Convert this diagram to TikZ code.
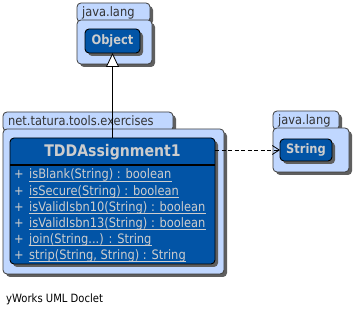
\documentclass[tikz,border=0pt]{standalone}
\usepackage{fontspec}
\setmainfont{DejaVu Sans}[FakeStretch=0.88]
\usetikzlibrary{arrows.meta,shadows}

\definecolor{pkgfill}{RGB}{192,215,255}
\definecolor{pkgline}{RGB}{60,60,60}
\definecolor{clsfill}{RGB}{2,84,166}
\definecolor{clstext}{RGB}{205,205,205}
\definecolor{shade}{RGB}{95,95,95}

\tikzset{
  box/.style={rectangle, inner sep=0pt, outer sep=0pt, anchor=north west,
    rounded corners=4pt,
    general shadow={fill=shade, shadow xshift=3pt, shadow yshift=-3pt}},
  pkgpart/.style={box, draw=pkgline, fill=pkgfill, line width=0.8pt},
  classbox/.style={box, draw=black, fill=clsfill, line width=0.9pt},
  refbox/.style={box, draw=black, fill=clsfill, line width=0.9pt,
    font=\bfseries\fontsize{13}{13}\selectfont, text=clstext},
  pkglabel/.style={anchor=base west, inner sep=0pt,
    font=\fontsize{13}{13}\selectfont, text=black!80},
  member/.style={anchor=base west, inner sep=0pt,
    font=\fontsize{13}{13}\selectfont, text=clstext},
  underl/.style={draw=clstext, line width=0.7pt},
  inherit/.style={draw=black, line width=0.8pt,
    -{Triangle[open, length=14pt, width=13pt, fill=white]}},
  depend/.style={draw=black, line width=0.8pt,
    dash pattern=on 4pt off 2.5pt,
    -{Straight Barb[length=7pt, width=9pt]}},
}

\begin{document}
\begin{tikzpicture}[x=1pt, y=-1pt]
\useasboundingbox (0,0) rectangle (354,315);

% package java.lang (top)
\node[pkgpart, minimum width=73pt, minimum height=19pt] (tabA) at (77,3) {};
\node[pkgpart, minimum width=75pt, minimum height=44pt] (pkgA) at (77,20) {};
\node[pkglabel] (labA) at (82,17) {java.lang};
\node[refbox, minimum width=55pt, minimum height=24pt] (obj) at (85,29) {Object};

% package net.tatura.tools.exercises
\node[pkgpart, minimum width=170pt, minimum height=19pt] (tabB) at (3,112) {};
\node[pkgpart, minimum width=221pt, minimum height=145pt] (pkgB) at (3,129) {};
\node[pkglabel] (labB) at (8,126) {net.tatura.tools.exercises};

% class TDDAssignment1
\node[classbox, minimum width=205pt, minimum height=126pt] (cls) at (10,138) {};
\node[anchor=base, inner sep=0pt, font=\bfseries\fontsize{16}{16}\selectfont,
  text=clstext] (title) at (112.5,157) {TDDAssignment1};
\coordinate (divL) at (10,165);
\coordinate (divR) at (215,165);
\draw[line width=1.6pt, black] (divL) -- (divR);

\foreach \i/\txt in {0/{isBlank(String) : boolean},
                     1/{isSecure(String) : boolean},
                     2/{isValidIsbn10(String) : boolean},
                     3/{isValidIsbn13(String) : boolean},
                     4/{join(String...) : String},
                     5/{strip(String, String) : String}} {
  \node[member] (plus\i) at (14,179+16.1*\i) {+};
  \node[member] (m\i) at (29,179+16.1*\i) {\txt};
  \draw[underl] ([yshift=-2.2pt]m\i.base west) -- ([yshift=-2.2pt]m\i.base east);
}

% package java.lang (right)
\node[pkgpart, minimum width=66pt, minimum height=19pt] (tabC) at (273,111) {};
\node[pkgpart, minimum width=76pt, minimum height=44pt] (pkgC) at (273,128) {};
\node[pkglabel] (labC) at (278,125) {java.lang};
\node[refbox, minimum width=52pt, minimum height=22pt] (str) at (280,139) {String};

% relations
\draw[inherit] (cls.north) -- (obj.south);
\draw[depend] (cls.east |- str.west) -- (str.west);

% footer
\node[anchor=base west, inner sep=0pt, font=\fontsize{11.4}{12}\selectfont]
  (footer) at (6,303) {yWorks UML Doclet};
\end{tikzpicture}
\end{document}
